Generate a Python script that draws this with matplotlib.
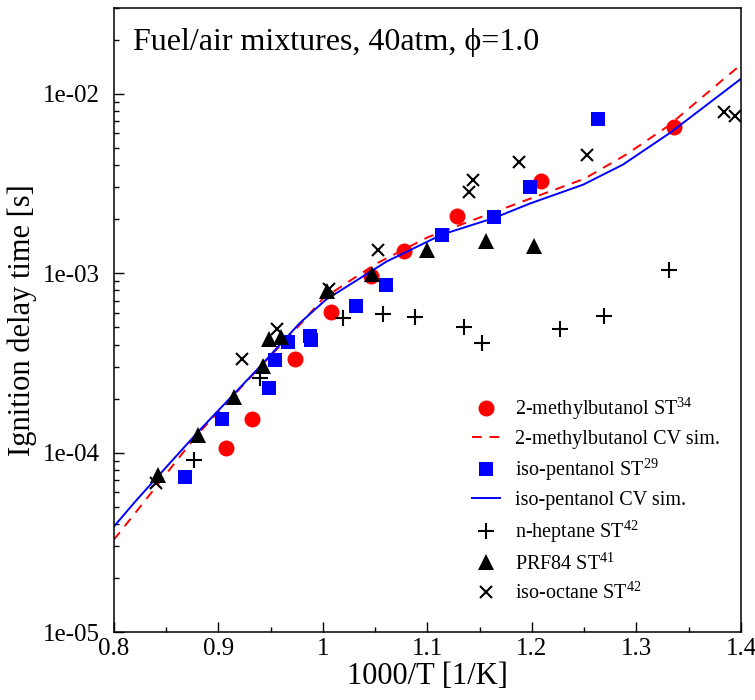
import numpy as np
import matplotlib
matplotlib.use("Agg")
import matplotlib.pyplot as plt
from matplotlib.ticker import MultipleLocator, LogLocator, FuncFormatter, NullFormatter

plt.rcParams['font.family'] = ['Liberation Serif', 'DejaVu Serif']
plt.rcParams['mathtext.fontset'] = 'custom'
plt.rcParams['mathtext.rm'] = 'Liberation Serif'

# 2-methylbutanol shock tube
mb_x = [0.907, 0.932, 0.973, 1.008, 1.046, 1.078, 1.128, 1.209, 1.336]
mb_y = [1.06e-4, 1.53e-4, 3.32e-4, 6.04e-4, 9.67e-4, 1.33e-3, 2.09e-3, 3.26e-3, 6.50e-3]

# 2-methylbutanol CV simulation
mb_sim_x = [0.800, 0.830, 0.880, 0.940, 0.980, 1.000, 1.050, 1.100, 1.150, 1.200, 1.250, 1.290, 1.330, 1.383, 1.400]
mb_sim_y = [3.26e-5, 5.4e-5, 1.26e-4, 3.0e-4, 5.3e-4, 7.2e-4, 1.12e-3, 1.58e-3, 2.04e-3, 2.62e-3, 3.35e-3, 4.57e-3, 6.58e-3, 1.20e-2, 1.45e-2]

# iso-pentanol shock tube
ip_x = [0.868, 0.904, 0.949, 0.954, 0.967, 0.988, 0.989, 1.032, 1.060, 1.114, 1.164, 1.198, 1.263]
ip_y = [7.35e-5, 1.54e-4, 2.28e-4, 3.29e-4, 4.13e-4, 4.48e-4, 4.25e-4, 6.52e-4, 8.61e-4, 1.64e-3, 2.05e-3, 3.01e-3, 7.23e-3]

# iso-pentanol CV simulation
ip_sim_x = [0.800, 0.822, 0.881, 0.940, 0.978, 1.003, 1.061, 1.114, 1.164, 1.198, 1.249, 1.287, 1.332, 1.400]
ip_sim_y = [3.86e-5, 5.45e-5, 1.31e-4, 3.02e-4, 5.27e-4, 7.11e-4, 1.16e-3, 1.64e-3, 2.03e-3, 2.44e-3, 3.11e-3, 4.02e-3, 6.04e-3, 1.21e-2]

# n-heptane shock tube
hep_x = [0.877, 0.940, 1.019, 1.058, 1.088, 1.135, 1.152, 1.227, 1.269, 1.331]
hep_y = [9.1e-5, 2.60e-4, 5.62e-4, 5.92e-4, 5.66e-4, 5.0e-4, 4.1e-4, 4.88e-4, 5.78e-4, 1.04e-3]

# PRF84 shock tube
prf_x = [0.842, 0.881, 0.915, 0.943, 0.949, 0.960, 1.004, 1.047, 1.100, 1.156, 1.202]
prf_y = [7.51e-5, 1.26e-4, 2.04e-4, 3.02e-4, 4.28e-4, 4.43e-4, 7.91e-4, 9.93e-4, 1.35e-3, 1.50e-3, 1.42e-3]

# iso-octane shock tube
iso_x = [0.840, 0.923, 0.956, 1.006, 1.053, 1.140, 1.144, 1.188, 1.253, 1.384, 1.394]
iso_y = [6.8e-5, 3.32e-4, 4.88e-4, 8.18e-4, 1.35e-3, 2.83e-3, 3.29e-3, 4.17e-3, 4.53e-3, 7.87e-3, 7.55e-3]

fig = plt.figure(figsize=(7.55, 7.0), dpi=100)
ax = fig.add_axes([0.1506, 0.0971, 0.8309, 0.8915])

ax.plot(mb_x, mb_y, 'o', color='#ff0000', ms=11.5, mew=0, label='2-methylbutanol ST$^{\\mathrm{34}}$')
ax.plot(mb_sim_x, mb_sim_y, '--', color='#ff0000', lw=1.4, dashes=(5, 4), label='2-methylbutanol CV sim.')
ax.plot(ip_x, ip_y, 's', color='#0000ff', ms=10, mew=0, label='iso-pentanol ST$^{\\mathrm{29}}$')
ax.plot(ip_sim_x, ip_sim_y, '-', color='#0000ff', lw=1.4, label='iso-pentanol CV sim.')
ax.plot(hep_x, hep_y, '+', color='black', ms=11, mew=1.5, label='n-heptane ST$^{\\mathrm{42}}$')
ax.plot(prf_x, prf_y, '^', color='black', ms=11, mew=0, label='PRF84 ST$^{\\mathrm{41}}$')
ax.plot(iso_x, iso_y, 'x', color='black', ms=8, mew=1.5, label='iso-octane ST$^{\\mathrm{42}}$')

ax.set_xlim(0.8, 1.4)
ax.set_yscale('log')
ax.set_ylim(1e-5, 3.0e-2)

ax.xaxis.set_major_locator(MultipleLocator(0.1))
ax.xaxis.set_minor_locator(MultipleLocator(0.05))
ax.xaxis.set_major_formatter(FuncFormatter(lambda v, p: f"{v:g}"))
ax.yaxis.set_major_locator(LogLocator(base=10, numticks=10))
ax.yaxis.set_minor_locator(LogLocator(base=10, subs=np.arange(2, 10), numticks=20))
ax.yaxis.set_major_formatter(FuncFormatter(lambda v, p: f"{v:.0e}"))
ax.yaxis.set_minor_formatter(NullFormatter())

ax.tick_params(which='both', direction='in', top=False, right=False, labelsize=18, width=1.0)
ax.tick_params(axis='y', which='both', pad=10)
ax.tick_params(axis='x', which='both', pad=4)
ax.tick_params(which='major', length=7)
ax.tick_params(which='minor', length=3.5)
for s in ax.spines.values():
    s.set_linewidth(1.1)

ax.set_xlabel('1000/T [1/K]', fontsize=22, labelpad=2)
ax.set_ylabel('Ignition delay time [s]', fontsize=22, labelpad=4)

ax.text(0.031, 0.944, 'Fuel/air mixtures, 40atm, ϕ=1.0', transform=ax.transAxes,
        fontsize=23, va='center', ha='left')

ax.legend(loc='upper left', bbox_to_anchor=(0.549, 0.402), frameon=False, fontsize=14.5,
          handlelength=1.4, handletextpad=0.73, labelspacing=0.38, borderpad=0.2)

fig.savefig('out.png', dpi=100)
